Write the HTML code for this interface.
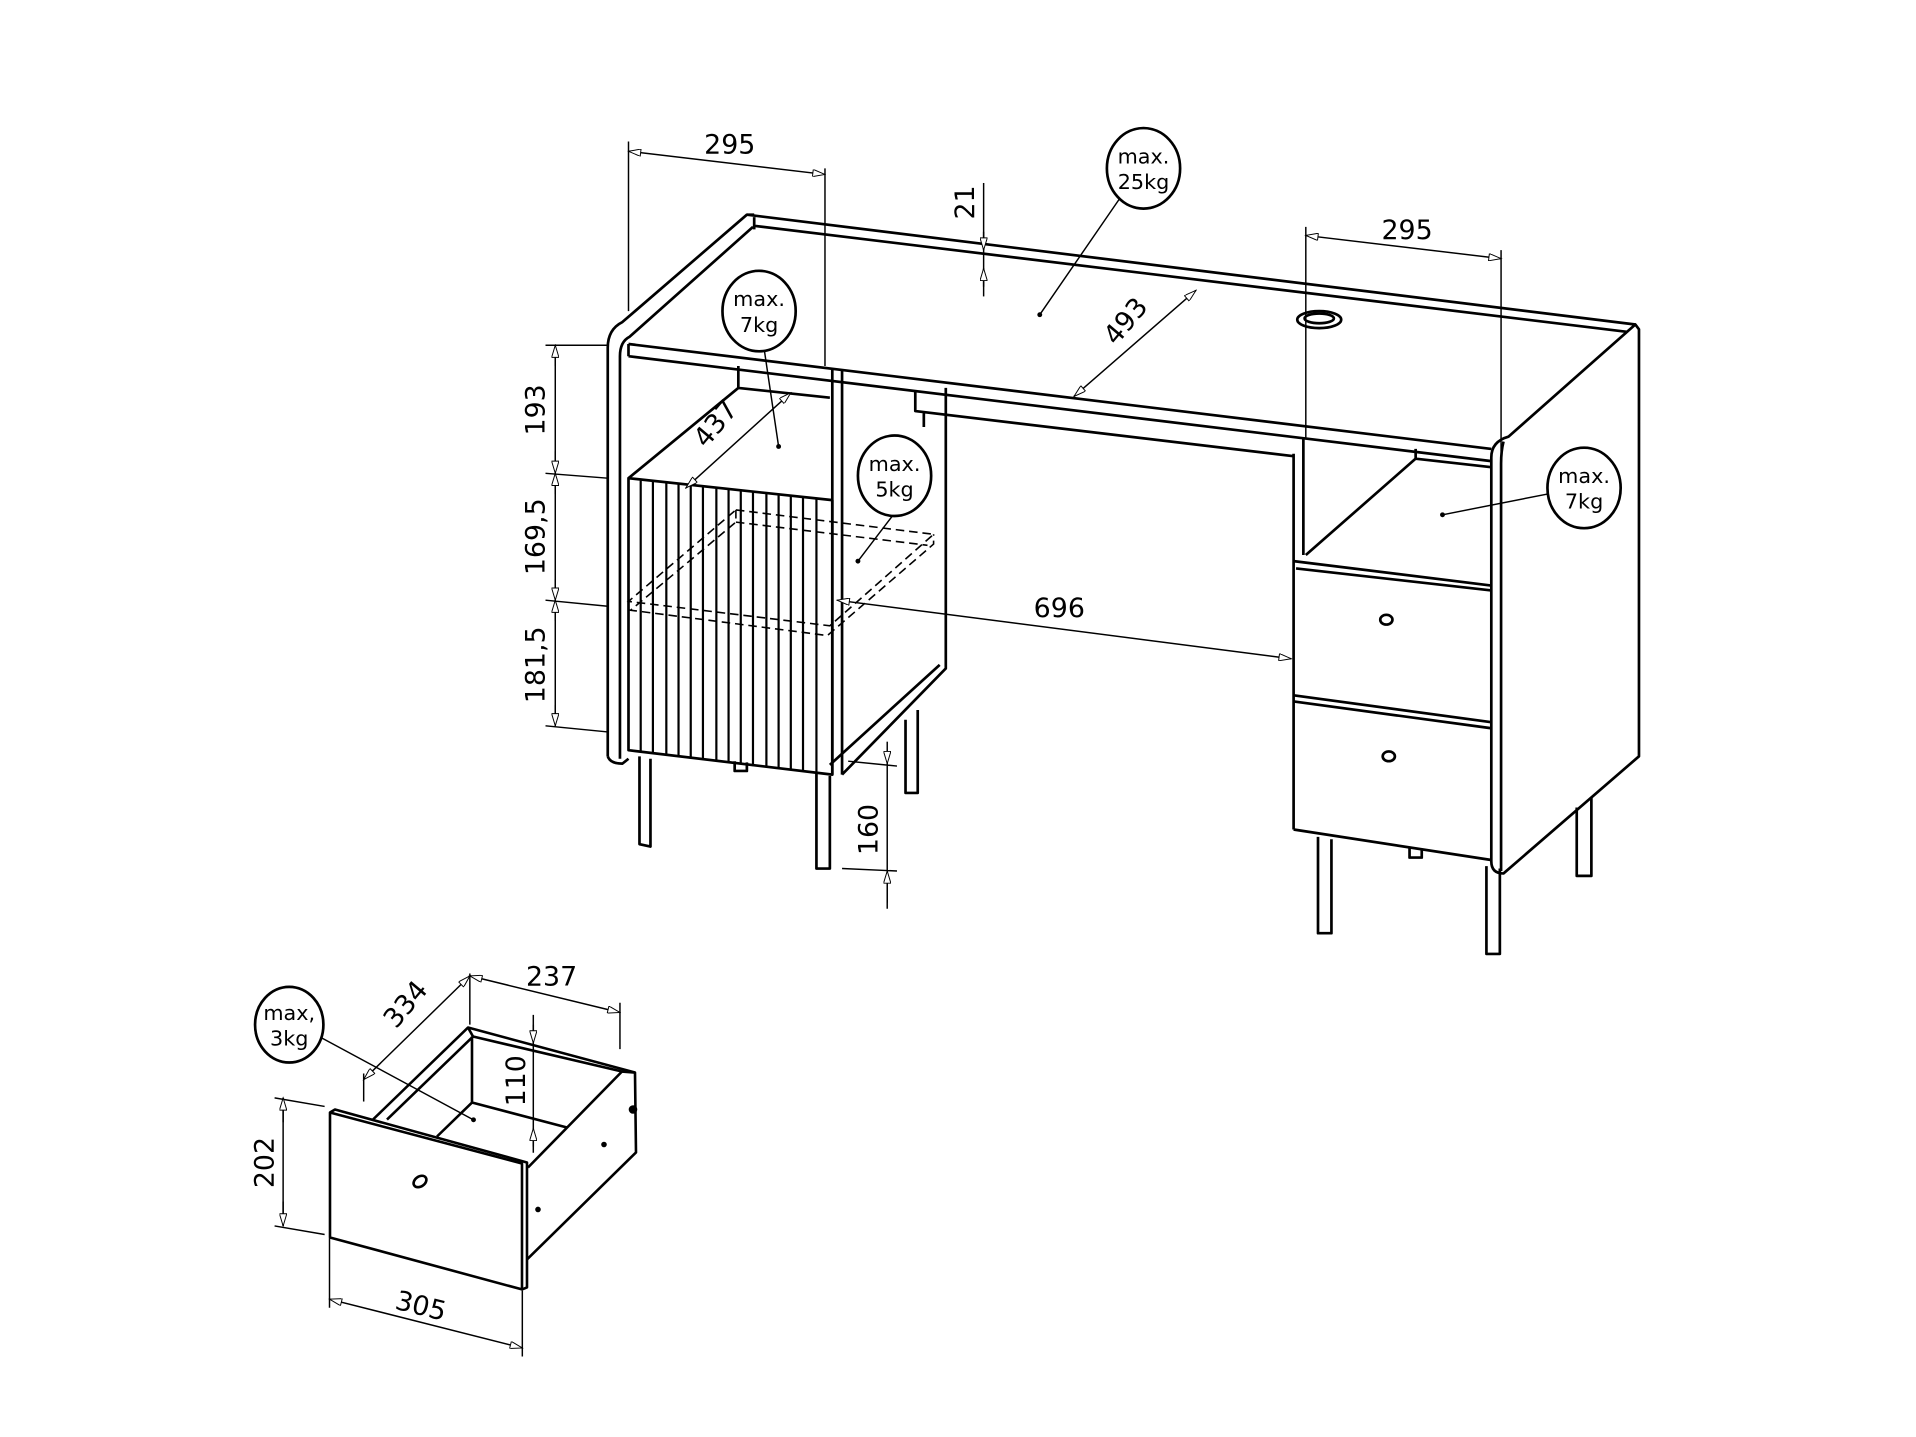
<!DOCTYPE html>
<html><head><meta charset="utf-8"><style>
html,body{margin:0;padding:0;background:#fff;}
svg{display:block;}
text{font-family:"DejaVu Sans","Liberation Sans",sans-serif;fill:#000;}
</style></head><body>
<svg width="1916" height="1437" viewBox="0 0 1570 1178" preserveAspectRatio="none" xmlns="http://www.w3.org/2000/svg">
<defs>
<marker id="a" viewBox="0 0 10 6" refX="10" refY="3" markerWidth="12" markerHeight="6" orient="auto-start-reverse" markerUnits="userSpaceOnUse"><path d="M0,0 L10,3 L0,6 z" fill="#fff" stroke="#000" stroke-width="0.8"/></marker>
</defs>
<g fill="none" stroke="#000" stroke-width="2.2" stroke-linejoin="round">
<path d="M612,176 L1340,266 M617,185 L1333,272 M618,188 L618,178"/>
<path d="M498,620 L498,285 Q498,270 510,264 L612,176 L618,176"/>
<path d="M508,622 L508,292 Q508,280 516,276 L617,186"/>
<path d="M515,282 L1222,368 M515,292 L1222,378 M515,282 L515,292"/>
<path d="M498,620 Q500,626 510,626 L515,622"/>
<path d="M1222,375 Q1222,362 1236,358 L1340,266 L1343,270 L1343,620 L1232,716 Q1222,716 1222,706 Z"/>
<path d="M1232,362 Q1230,370 1230,380 L1230,714"/>
<path d="M605,300 L605,318 L680,326 M605,318 L515,392"/>
<path d="M682,302 L682,635 M690,303 L690,635 M775,318 L775,548 L690,635"/>
<path d="M515,392 L682,410 L682,635 L515,615 Z"/>
<path d="M680,627 L770,545"/>
<path d="M750,320 L750,337 L1060,374 M757,337 L757,350 M1060,372 L1060,680"/>
<path d="M1068,360 L1068,455 M1070,455 L1160,376 L1222,383 M1160,376 L1160,368"/>
<path d="M1060,460 L1222,480 M1062,466 L1222,484"/>
<path d="M1060,570 L1222,592 M1060,575 L1222,597 M1060,680 L1222,705"/>
<ellipse cx="1081" cy="262" rx="18" ry="7"/>
<ellipse cx="1081" cy="261" rx="12" ry="4"/>
<ellipse cx="1136" cy="508" rx="5" ry="4"/>
<ellipse cx="1138" cy="620" rx="5" ry="4"/>
<path d="M524,620 L524,692 L533,694 L533,622"/>
<path d="M669,634 L669,712 L680,712 L680,636"/>
<path d="M742,590 L742,650 L752,650 L752,582"/>
<path d="M602,624 L602,632 L612,632 L612,625"/>
<path d="M1080,686 L1080,765 L1091,765 L1091,688"/>
<path d="M1218,710 L1218,782 L1229,782 L1229,712"/>
<path d="M1292,662 L1292,718 L1304,718 L1304,654"/>
<path d="M1155,695 L1155,703 L1165,703 L1165,696"/>
</g>
<g transform="scale(0.8194)" fill="none" stroke="#000" stroke-width="2.6" stroke-linejoin="round">
<path d="M330,1113 L335,1110 L527,1163 L527,1288 L522,1290 L330,1238 Z"/>
<path d="M330,1113 L522,1164 L522,1290"/>
<path d="M373,1120 L468,1028 L635,1073 L636,1153 L527,1260"/>
<path d="M387,1120 L473,1037 L622,1072 L528,1168"/>
<path d="M635,1073 L622,1072 M468,1028 L473,1037"/>
<path d="M472,1037 L472,1103 L437,1137 M472,1103 L567,1128"/>
<ellipse cx="420" cy="1182" rx="7" ry="5" transform="rotate(-35 420 1182)"/>
<circle cx="538" cy="1210" r="1.5" fill="#000"/><circle cx="604" cy="1145" r="1.5" fill="#000"/><circle cx="633" cy="1110" r="3" fill="#000"/>
</g>
<g stroke="#000" stroke-width="1.8">
<line x1="525" y1="394" x2="525" y2="617"/><line x1="535" y1="395" x2="535" y2="618"/>
<line x1="546" y1="396" x2="546" y2="619"/><line x1="556" y1="397" x2="556" y2="620"/>
<line x1="566" y1="398" x2="566" y2="622"/><line x1="576" y1="399" x2="576" y2="623"/>
<line x1="587" y1="400" x2="587" y2="624"/><line x1="597" y1="401" x2="597" y2="625"/>
<line x1="607" y1="402" x2="607" y2="626"/><line x1="617" y1="403" x2="617" y2="628"/>
<line x1="628" y1="404" x2="628" y2="629"/><line x1="638" y1="405" x2="638" y2="630"/>
<line x1="648" y1="406" x2="648" y2="631"/><line x1="658" y1="407" x2="658" y2="632"/>
<line x1="669" y1="408" x2="669" y2="633"/>
</g>
<g fill="none" stroke="#000" stroke-width="1.3" stroke-dasharray="7,4">
<path d="M603,418 L765,438 L680,513 L515,493 Z"/>
<path d="M603,428 L760,447 M603,418 L603,428 L517,500 M515,500 L678,521 L765,446 L765,438"/>
</g>
<g fill="none" stroke="#000" stroke-width="1.2">
<path d="M515,116 L515,255 M676,138 L676,300"/>
<line x1="515" y1="124" x2="676" y2="143" marker-start="url(#a)" marker-end="url(#a)"/>
<path d="M806,150 L806,243"/>
<line x1="806" y1="190" x2="806" y2="205" marker-end="url(#a)"/>
<line x1="806" y1="235" x2="806" y2="220" marker-end="url(#a)"/>
<line x1="980" y1="238" x2="880" y2="325" marker-start="url(#a)" marker-end="url(#a)"/>
<path d="M1070,186 L1070,360 M1230,205 L1230,370"/>
<line x1="1070" y1="193" x2="1230" y2="212" marker-start="url(#a)" marker-end="url(#a)"/>
<line x1="648" y1="322" x2="562" y2="400" marker-start="url(#a)" marker-end="url(#a)"/>
<line x1="686" y1="492" x2="1058" y2="540" marker-start="url(#a)" marker-end="url(#a)"/>
<path d="M455,283 L455,595 M447,283 L498,283 M447,388 L498,392 M447,492 L498,497 M447,595 L498,600"/>
<line x1="455" y1="300" x2="455" y2="283" marker-end="url(#a)"/>
<line x1="455" y1="370" x2="455" y2="388" marker-end="url(#a)"/>
<line x1="455" y1="405" x2="455" y2="388" marker-end="url(#a)"/>
<line x1="455" y1="475" x2="455" y2="492" marker-end="url(#a)"/>
<line x1="455" y1="509" x2="455" y2="492" marker-end="url(#a)"/>
<line x1="455" y1="578" x2="455" y2="595" marker-end="url(#a)"/>
<path d="M727,615 L727,745 M695,624 L735,628 M690,712 L735,714"/>
<line x1="727" y1="608" x2="727" y2="626" marker-end="url(#a)"/>
<line x1="727" y1="740" x2="727" y2="714" marker-end="url(#a)"/>
<path d="M385,798 L385,840 M508,822 L508,860"/>
<line x1="385" y1="800" x2="508" y2="830" marker-start="url(#a)" marker-end="url(#a)"/>
<line x1="385" y1="800" x2="298" y2="885" marker-start="url(#a)" marker-end="url(#a)"/>
<path d="M298,880 L298,903"/>
<path d="M437,832 L437,945"/>
<line x1="437" y1="840" x2="437" y2="855" marker-end="url(#a)"/>
<line x1="437" y1="940" x2="437" y2="925" marker-end="url(#a)"/>
<path d="M232,900 L232,1005 M225,900 L266,907 M225,1005 L266,1012"/>
<line x1="232" y1="920" x2="232" y2="900" marker-end="url(#a)"/>
<line x1="232" y1="985" x2="232" y2="1005" marker-end="url(#a)"/>
<path d="M270,1015 L270,1072 M428,1058 L428,1112"/>
<line x1="270" y1="1065" x2="428" y2="1105" marker-start="url(#a)" marker-end="url(#a)"/>
<path d="M918,162 L852,258 M626,285 L638,366 M735,418 L703,460 M1268,405 L1182,422 M262,850 L388,918"/>
</g>
<g fill="#000"><circle cx="852" cy="258" r="2"/><circle cx="638" cy="366" r="2"/><circle cx="703" cy="460" r="2"/><circle cx="1182" cy="422" r="2"/><circle cx="388" cy="918" r="2"/></g>
<g fill="#fff" stroke="#000" stroke-width="2.2">
<ellipse cx="937" cy="138" rx="30" ry="33"/>
<ellipse cx="622" cy="255" rx="30" ry="33"/>
<ellipse cx="733" cy="390" rx="30" ry="33"/>
<ellipse cx="1298" cy="400" rx="30" ry="33"/>
<ellipse cx="237" cy="840" rx="28" ry="31"/>
</g>
<g font-size="17" text-anchor="middle">
<text x="937" y="134">max.</text><text x="937" y="155">25kg</text>
<text x="622" y="251">max.</text><text x="622" y="272">7kg</text>
<text x="733" y="386">max.</text><text x="733" y="407">5kg</text>
<text x="1298" y="396">max.</text><text x="1298" y="417">7kg</text>
<text x="237" y="836">max,</text><text x="237" y="857">3kg</text>
</g>
<g font-size="22" text-anchor="middle">
<text x="598" y="126">295</text>
<text x="1153" y="196">295</text>
<text x="868" y="506">696</text>
<text x="452" y="808">237</text>
<text x="345" y="1078" transform="rotate(14 345 1070)">305</text>
<text transform="translate(798,166) rotate(-90)">21</text>
<text transform="translate(928,268) rotate(-50)">493</text>
<text transform="translate(592,352) rotate(-50)">437</text>
<text transform="translate(338,828) rotate(-50)">334</text>
<text transform="translate(446,336) rotate(-90)">193</text>
<text transform="translate(446,440) rotate(-90)">169,5</text>
<text transform="translate(446,545) rotate(-90)">181,5</text>
<text transform="translate(719,680) rotate(-90)">160</text>
<text transform="translate(430,886) rotate(-90)">110</text>
<text transform="translate(224,953) rotate(-90)">202</text>
</g>
</svg>
</body></html>
